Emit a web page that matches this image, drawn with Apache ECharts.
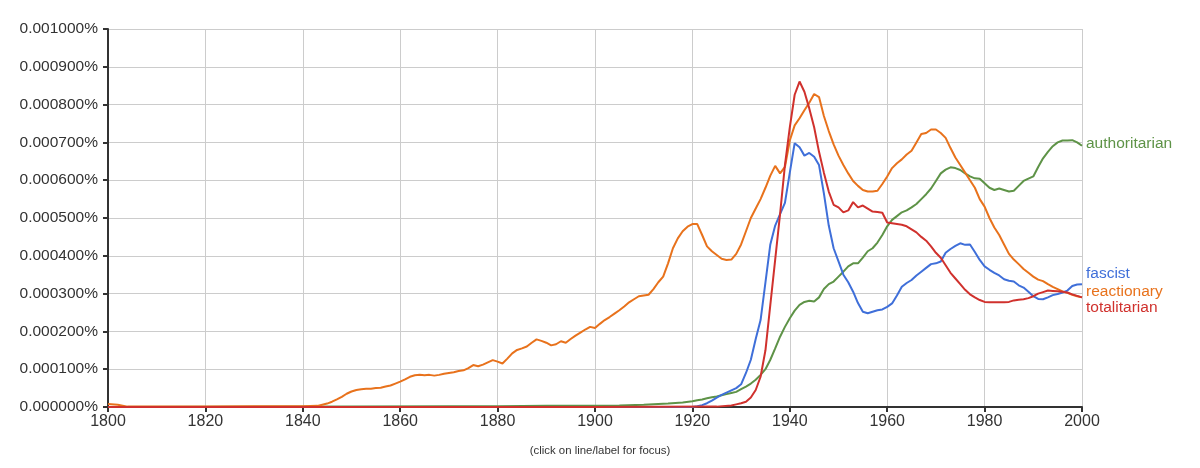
<!DOCTYPE html>
<html><head><meta charset="utf-8">
<script src="https://cdn.jsdelivr.net/npm/echarts@6/dist/echarts.min.js"></script>
<style>html,body{margin:0;padding:0;background:#fff}#c{width:1200px;height:468px}</style>
</head><body><div id="c"></div>
<script>
// values in millionths of a percent (e.g. 700 = 0.000700%)
const reactionaryYears = [1800,1802,1804,1810,1820,1830,1840,1843,1844,1845,1846,1847,1848,1849,1850,1851,1852,1853,1854,1855,1856,1857,1858,1859,1860,1861,1862,1863,1864,1865,1866,1867,1868,1869,1870,1871,1872,1873,1874,1875,1876,1877,1878,1879,1880,1881,1882,1883,1884,1885,1886,1887,1888,1889,1890,1891,1892,1893,1894,1895,1896,1897,1898,1899,1900,1901,1902,1903,1904,1905,1906,1907,1908,1909,1910,1911,1912,1913,1914,1915,1916,1917,1918,1919,1920,1921,1922,1923,1924,1925,1926,1927,1928,1929,1930,1931,1932,1933,1934,1935,1936,1937,1938,1939,1940,1941,1942,1943,1944,1945,1946,1947,1948,1949,1950,1951,1952,1953,1954,1955,1956,1957,1958,1959,1960,1961,1962,1963,1964,1965,1966,1967,1968,1969,1970,1971,1972,1973,1974,1975,1976,1977,1978,1979,1980,1981,1982,1983,1984,1985,1986,1987,1988,1989,1990,1991,1992,1993,1994,1995,1996,1997,1998,1999,2000];
const reactionary = [8,6,1,1,1,2,2,3,6,9,14,20,27,35,41,45,47,48,48,50,51,54,57,62,67,73,80,84,85,84,85,83,85,88,90,92,95,97,103,111,108,112,118,124,120,115,128,142,151,155,160,170,179,175,170,163,166,174,170,180,189,197,205,212,209,220,230,238,247,256,266,277,285,293,295,297,312,330,345,380,420,446,465,477,484,484,455,425,412,402,392,389,390,405,430,465,500,525,550,580,612,638,618,635,705,745,764,785,805,828,820,770,730,695,665,640,618,598,585,574,570,570,572,590,610,632,645,655,668,678,700,722,725,734,734,725,712,685,660,640,620,600,580,550,530,500,475,455,430,405,390,378,365,355,345,337,333,325,318,312,306,302,297,293,290];

const totalitarianYears = [1800,1850,1900,1925,1928,1929,1930,1931,1932,1933,1934,1935,1936,1937,1938,1939,1940,1941,1942,1943,1944,1945,1946,1947,1948,1949,1950,1951,1952,1953,1954,1955,1956,1957,1958,1959,1960,1961,1962,1963,1964,1965,1966,1967,1968,1969,1970,1971,1972,1973,1974,1975,1976,1977,1978,1979,1980,1981,1982,1983,1984,1985,1986,1987,1988,1989,1990,1991,1992,1993,1994,1995,1996,1997,1998,1999,2000];
const totalitarian = [0,0,0,1,4,7,10,14,25,45,80,150,270,390,510,640,740,826,861,834,790,740,675,620,570,535,528,515,520,542,528,533,525,517,516,514,488,486,484,482,478,470,462,450,440,425,408,395,375,355,340,325,310,298,290,283,278,277,277,277,277,278,282,284,285,288,293,300,304,308,307,306,305,303,298,294,290];

const fascistYears = [1800,1850,1900,1920,1921,1922,1923,1924,1925,1926,1927,1928,1929,1930,1931,1932,1933,1934,1935,1936,1937,1938,1939,1940,1941,1942,1943,1944,1945,1946,1947,1948,1949,1950,1951,1952,1953,1954,1955,1956,1957,1958,1959,1960,1961,1962,1963,1964,1965,1966,1967,1968,1969,1970,1971,1972,1973,1974,1975,1976,1977,1978,1979,1980,1981,1982,1983,1984,1985,1986,1987,1988,1989,1990,1991,1992,1993,1994,1995,1996,1997,1998,1999,2000];
const fascist = [0,0,0,0,2,5,10,17,25,32,38,44,50,60,90,125,180,230,330,430,480,510,540,620,698,687,665,672,662,640,565,480,420,385,350,330,305,275,252,248,252,256,258,265,274,295,318,328,336,348,358,368,378,380,385,408,418,426,433,429,430,410,389,372,363,355,348,338,334,332,322,316,305,293,286,285,290,296,299,303,308,320,324,325];

const authoritarianYears = [1800,1850,1870,1880,1890,1900,1905,1910,1915,1918,1920,1921,1922,1923,1924,1925,1926,1927,1928,1929,1930,1931,1932,1933,1934,1935,1936,1937,1938,1939,1940,1941,1942,1943,1944,1945,1946,1947,1948,1949,1950,1951,1952,1953,1954,1955,1956,1957,1958,1959,1960,1961,1962,1963,1964,1965,1966,1967,1968,1969,1970,1971,1972,1973,1974,1975,1976,1977,1978,1979,1980,1981,1982,1983,1984,1985,1986,1987,1988,1989,1990,1991,1992,1993,1994,1995,1996,1997,1998,1999,2000];
const authoritarian = [0,1,2,2,3,3,4,6,9,12,15,18,20,23,26,28,31,34,37,40,47,54,62,72,85,100,125,155,186,212,235,255,270,278,281,279,290,312,325,332,345,358,372,380,380,395,412,420,435,455,478,495,505,515,520,528,537,550,563,578,598,618,628,634,632,627,618,610,605,604,592,580,574,578,574,570,572,585,598,604,610,635,658,675,690,700,705,705,706,700,691];

const seriesNames = ['authoritarian','reactionary','fascist','totalitarian'];
const xTicks = [1800,1820,1840,1860,1880,1900,1920,1940,1960,1980,2000];
const footerText = '(click on line/label for focus)';

const zip = (xs, ys) => xs.map((x, i) => [x, ys[i]]);
const defs = [
  {name: seriesNames[0], xs: authoritarianYears, ys: authoritarian, color: '#5e9347', off: [0, -2]},
  {name: seriesNames[1], xs: reactionaryYears, ys: reactionary, color: '#e8721c', off: [0, -6]},
  {name: seriesNames[2], xs: fascistYears, ys: fascist, color: '#3f6fd9', off: [0, -10]},
  {name: seriesNames[3], xs: totalitarianYears, ys: totalitarian, color: '#d0312d', off: [0, 10]}
];
const FONT = 'Liberation Sans, Arial, sans-serif';

const chart = echarts.init(document.getElementById('c'), null, {renderer: 'canvas'});
chart.setOption({
  animation: false,
  backgroundColor: '#fff',
  grid: {left: 108, right: 118, top: 29, bottom: 61, containLabel: false},
  title: {
    text: footerText, left: 595, textAlign: 'center', top: 440,
    textStyle: {fontSize: 11.4, fontWeight: 'normal', color: '#333', fontFamily: FONT}
  },
  xAxis: {
    type: 'value', min: 1800, max: 2000, interval: 20,
    axisLine: {show: true, onZero: false, lineStyle: {color: '#333', width: 2}},
    axisTick: {show: true, length: 5, lineStyle: {color: '#333', width: 2}},
    axisLabel: {
      formatter: v => xTicks.includes(v) ? String(v) : '',
      color: '#333', fontSize: 16, margin: 7, fontFamily: FONT
    },
    splitLine: {show: true, lineStyle: {color: '#cccccc', width: 1}}
  },
  yAxis: {
    type: 'value', min: 0, max: 1000, interval: 100,
    axisLine: {show: true, lineStyle: {color: '#333', width: 2}},
    axisTick: {show: true, length: 5, lineStyle: {color: '#333', width: 2}},
    axisLabel: {
      formatter: v => (v / 1e6).toFixed(6) + '%',
      color: '#333', fontSize: 15.5, margin: 10, fontFamily: FONT
    },
    splitLine: {show: true, lineStyle: {color: '#cccccc', width: 1}}
  },
  series: defs.map(d => ({
    name: d.name, type: 'line', data: zip(d.xs, d.ys),
    showSymbol: false, symbol: 'none', smooth: false, clip: false,
    lineStyle: {color: d.color, width: 2},
    itemStyle: {color: d.color},
    endLabel: {
      show: true, formatter: '{a}', color: d.color, fontSize: 15.5,
      distance: 4, offset: d.off, fontFamily: FONT
    },
    labelLayout: {hideOverlap: false, moveOverlap: false}
  }))
});
</script></body></html>
